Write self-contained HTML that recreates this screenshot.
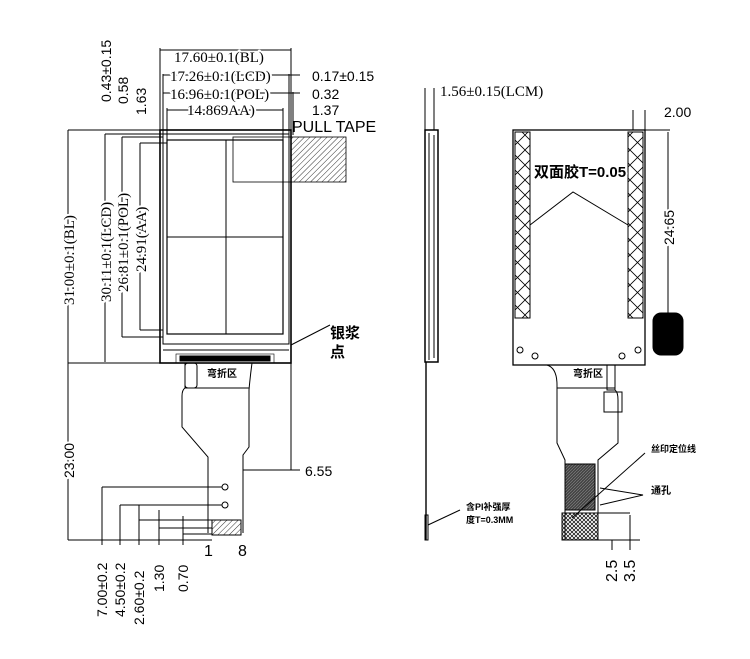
<!DOCTYPE html>
<html><head><meta charset="utf-8"><style>
html,body{margin:0;padding:0;background:#fff;width:750px;height:659px;overflow:hidden}
svg{display:block}
text{font-family:"Liberation Sans","Noto Sans CJK SC",sans-serif}
.s{font-family:"Liberation Serif","Noto Serif CJK SC",serif;font-size:15px}
.c{font-family:"Liberation Sans","Noto Sans CJK SC",sans-serif;font-weight:bold}
</style></head><body>
<svg width="750" height="659" viewBox="0 0 750 659" xmlns="http://www.w3.org/2000/svg" xmlns:xlink="http://www.w3.org/1999/xlink">
<defs>
<pattern id="h" width="4" height="4" patternUnits="userSpaceOnUse" patternTransform="rotate(45)"><line x1="0" y1="0" x2="0" y2="4" stroke="#000" stroke-width="0.8"/></pattern>
<pattern id="x" width="15" height="15" patternUnits="userSpaceOnUse"><path d="M0 0L15 15M15 0L0 15" stroke="#000" stroke-width="0.8"/></pattern>
<pattern id="d" width="3" height="3" patternUnits="userSpaceOnUse"><rect width="3" height="3" fill="#444"/><path d="M0 3L3 0" stroke="#888" stroke-width="0.6"/></pattern>
<pattern id="cx" width="4" height="4" patternUnits="userSpaceOnUse"><path d="M0 0L4 4M4 0L0 4" stroke="#000" stroke-width="0.7"/></pattern>
<g id="t">
<g font-size="14">
<text x="174" y="62" class="s">17.60±0.1(BL)</text>
<text x="170" y="81" class="s">17.26±0.1(LCD)</text>
<text x="312" y="81">0.17±0.15</text>
<text x="170" y="99" class="s">16.96±0.1(POL)</text>
<text x="312" y="99">0.32</text>
<text x="187" y="115" class="s">14.869AA)</text>
<text x="312" y="115">1.37</text>
<text x="305" y="476">6.55</text>
<text x="204" y="556" font-size="16">1</text>
<text x="238" y="556" font-size="16">8</text>
<text x="440" y="96" class="s">1.56±0.15(LCM)</text>
<text x="664" y="117">2.00</text>
<text transform="translate(74,305) rotate(-90)" class="s">31.00±0.1(BL)</text>
<text transform="translate(74,478) rotate(-90)">23.00</text>
<text transform="translate(111,302) rotate(-90)" class="s">30.11±0.1(LCD)</text>
<text transform="translate(128,292) rotate(-90)" class="s">26.81±0.1(POL)</text>
<text transform="translate(146,272) rotate(-90)" class="s">24.91(AA)</text>
<text transform="translate(111,102) rotate(-90)">0.43±0.15</text>
<text transform="translate(128,104) rotate(-90)">0.58</text>
<text transform="translate(146,115) rotate(-90)">1.63</text>
<text transform="translate(107,617) rotate(-90)">7.00±0.2</text>
<text transform="translate(125,617) rotate(-90)">4.50±0.2</text>
<text transform="translate(144,625) rotate(-90)">2.60±0.2</text>
<text transform="translate(164,592) rotate(-90)">1.30</text>
<text transform="translate(188,592) rotate(-90)">0.70</text>
<text transform="translate(674,245) rotate(-90)">24.65</text>
<text transform="translate(617,582) rotate(-90)" font-size="16">2.5</text>
<text transform="translate(635,582) rotate(-90)" font-size="16">3.5</text>
</g>
<text x="330" y="338" class="c" font-size="15">银浆</text>
<text x="330" y="357" class="c" font-size="15">点</text>
<text x="534" y="177" class="c" font-size="15">双面胶T=0.05</text>
<text x="651" y="452" class="c" font-size="9">丝印定位线</text>
<text x="651" y="494" class="c" font-size="10">通孔</text>
<text x="466" y="510" class="c" font-size="9">含PI补强厚</text>
<text x="466" y="523" class="c" font-size="9">度T=0.3MM</text>
</g>
</defs>
<g fill="none" stroke="#000" stroke-width="1">
<rect x="160" y="130" width="131" height="233" stroke-width="1.6"/>
<rect x="163" y="134" width="126" height="210"/>
<rect x="167" y="140" width="116" height="194" stroke-width="1.2"/>
<line x1="226" y1="140" x2="226" y2="334"/>
<line x1="167" y1="237" x2="283" y2="237"/>
<line x1="163" y1="350" x2="289" y2="350"/>
<rect x="233" y="137" width="58" height="45" stroke-width="0.8"/>
<rect x="291" y="137" width="55" height="45" fill="url(#h)" stroke-width="0.8"/>
<rect x="180" y="356" width="90" height="5" fill="#000"/>
<rect x="176" y="354" width="98" height="9" stroke-width="0.6"/>
<path d="M185 363V388Q182 390 182 396V427L208 457V533"/>
<path d="M252 363Q250 378 249 390V447L243 455V533"/>
<line x1="185" y1="388" x2="249" y2="388"/>
<rect x="185" y="363" width="12" height="25" rx="3"/>
<rect x="212" y="520" width="29" height="15" fill="url(#h)"/>
<circle cx="225" cy="487" r="3"/><circle cx="225" cy="505" r="3"/>
<line x1="68" y1="130" x2="160" y2="130"/><line x1="68" y1="363" x2="185" y2="363"/>
<line x1="68" y1="540" x2="212" y2="540"/>
<line x1="68" y1="130" x2="68" y2="540"/>
<line x1="105" y1="134" x2="163" y2="134"/><line x1="105" y1="134" x2="105" y2="362"/>
<line x1="122" y1="137" x2="163" y2="137"/><line x1="122" y1="137" x2="122" y2="337"/><line x1="122" y1="337" x2="163" y2="337"/>
<line x1="140" y1="143" x2="167" y2="143"/><line x1="140" y1="143" x2="140" y2="330"/><line x1="140" y1="330" x2="163" y2="330"/>
<line x1="160" y1="48" x2="160" y2="130"/><line x1="291" y1="48" x2="291" y2="130"/>
<line x1="163" y1="74" x2="163" y2="134"/><line x1="289" y1="74" x2="289" y2="134"/>
<line x1="167" y1="108" x2="167" y2="140"/><line x1="283" y1="108" x2="283" y2="140"/>
<line x1="293" y1="92" x2="293" y2="135"/>
<line x1="160" y1="50" x2="291" y2="50"/><line x1="163" y1="75" x2="300" y2="75"/><line x1="163" y1="93" x2="300" y2="93"/><line x1="167" y1="110" x2="283" y2="110"/>
<line x1="291" y1="362" x2="291" y2="470"/><line x1="243" y1="470" x2="300" y2="470"/>
<line x1="102" y1="487" x2="222" y2="487"/><line x1="102" y1="487" x2="102" y2="545"/>
<line x1="120" y1="505" x2="222" y2="505"/><line x1="120" y1="505" x2="120" y2="545"/>
<line x1="139" y1="520" x2="212" y2="520"/><line x1="139" y1="505" x2="139" y2="545"/>
<line x1="159" y1="528" x2="212" y2="528"/><line x1="159" y1="510" x2="159" y2="545"/>
<line x1="183" y1="534" x2="212" y2="534"/><line x1="183" y1="516" x2="183" y2="545"/>
<line x1="291" y1="345" x2="330" y2="325"/>
<rect x="425" y="130" width="13" height="232" stroke-width="1.5"/>
<line x1="429" y1="133" x2="429" y2="360"/><line x1="434" y1="135" x2="434" y2="358"/>
<line x1="426" y1="362" x2="426" y2="540" stroke-width="1.4"/>
<rect x="425" y="515" width="3" height="25"/>
<line x1="425" y1="88" x2="425" y2="130"/><line x1="434" y1="88" x2="434" y2="130"/>
<line x1="428" y1="525" x2="460" y2="510"/>
<rect x="513" y="130" width="132" height="235" stroke-width="1.3"/>
<rect x="515" y="132" width="15" height="186" fill="url(#x)"/>
<rect x="628" y="132" width="15" height="186" fill="url(#x)"/>
<path d="M530 225L573 192L628 225"/>
<rect x="653" y="313" width="30" height="42" rx="8" fill="#000"/>
<circle cx="520" cy="350" r="3"/><circle cx="535" cy="356" r="3"/><circle cx="622" cy="356" r="3"/><circle cx="638" cy="350" r="3"/>
<line x1="633" y1="110" x2="633" y2="130"/><line x1="645" y1="110" x2="645" y2="130"/>
<line x1="645" y1="130" x2="670" y2="130"/><line x1="668" y1="132" x2="668" y2="313"/>
<path d="M547 365Q557 368 557 385V443L565 460V540"/>
<path d="M615 365V390Q618 392 618 400V443L598 460V540"/>
<line x1="557" y1="388" x2="615" y2="388"/>
<rect x="607" y="365" width="8" height="25"/>
<rect x="604" y="392" width="18" height="20"/>
<rect x="565" y="464" width="30" height="46" fill="url(#d)"/>
<rect x="562" y="513" width="36" height="27" fill="url(#cx)"/>
<path d="M572 518L645 453"/><path d="M600 488L643 495L600 505"/>
<line x1="598" y1="540" x2="640" y2="540"/>
<line x1="612" y1="540" x2="612" y2="550"/><line x1="630" y1="515" x2="630" y2="550"/>
<line x1="598" y1="513" x2="630" y2="513"/>
</g>
<use xlink:href="#t" href="#t" fill="#fff" stroke="#fff" stroke-width="4" stroke-linejoin="round"/>
<use xlink:href="#t" href="#t" fill="#000"/>
<text x="292" y="132" font-size="16" fill="#000">PULL TAPE</text>
<text x="207" y="377" class="c" font-size="10" fill="#000">弯折区</text>
<text x="573" y="377" class="c" font-size="10" fill="#000">弯折区</text>
</svg>
</body></html>
